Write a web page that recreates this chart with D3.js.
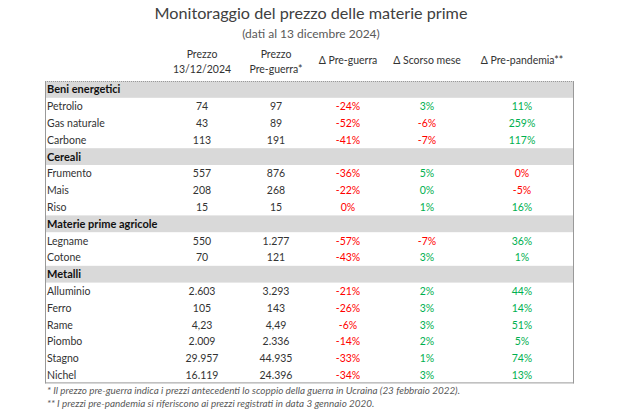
<!DOCTYPE html>
<html><head><meta charset="utf-8">
<script src="https://cdn.jsdelivr.net/npm/d3@7"></script>
<style>
html,body{margin:0;padding:0;background:#fff;}
svg{display:block;font-family:Lato,"Open Sans",sans-serif;}
</style></head>
<body><div id="chart"></div>
<script>
// ---- data ----
const title = "Monitoraggio del prezzo delle materie prime";
const subtitle = "(dati al 13 dicembre 2024)";
const columnHeaders = [["Prezzo","13/12/2024"],["Prezzo","Pre-guerra*"],["Δ Pre-guerra"],["Δ Scorso mese"],["Δ Pre-pandemia**"]];
const groups = ["Beni energetici","Cereali","Materie prime agricole","Metalli"];
const groupOf = ["Beni energetici","Beni energetici","Beni energetici","Cereali","Cereali","Cereali","Materie prime agricole","Materie prime agricole","Metalli","Metalli","Metalli","Metalli","Metalli","Metalli"];
const commodities = ["Petrolio","Gas naturale","Carbone","Frumento","Mais","Riso","Legname","Cotone","Alluminio","Ferro","Rame","Piombo","Stagno","Nichel"];
const prezzoAttuale = [74,43,113,557,208,15,550,70,2603,105,4.23,2009,29957,16119];
const prezzoPreGuerra = [97,89,191,876,268,15,1277,121,3293,143,4.49,2336,44935,24396];
const deltaPreGuerra = [-24,-52,-41,-36,-22,-0.3,-57,-43,-21,-26,-6,-14,-33,-34];
const deltaScorsoMese = [3,-6,-7,5,0.3,1,-7,3,2,3,3,2,1,3];
const deltaPrePandemia = [11,259,117,-0.3,-5,16,36,1,44,14,51,5,74,13];
const footnotes = ["* Il prezzo pre-guerra indica i prezzi antecedenti lo scoppio della guerra in Ucraina (23 febbraio 2022).",
                   "** I prezzi pre-pandemia si riferiscono ai prezzi registrati in data 3 gennaio 2020."];

// ---- layout ----
const W = 620, H = 412;
const svg = d3.select("#chart").append("svg").attr("width", W).attr("height", H);

const rows = [];
groups.forEach(g => {
  rows.push({type:"group", label:g});
  commodities.forEach((c,i) => {
    if (groupOf[i] === g) rows.push({type:"item", label:c, i});
  });
});

const y = d3.scaleBand().domain(d3.range(rows.length)).range([81, 81 + 16.8*rows.length]);
const colKeys = ["p1","p2","d1","d2","d3"];
const x = d3.scaleOrdinal().domain(colKeys).range([202, 276, 348, 427, 522]);
const tableLeft = 45, tableRight = 574;

const it = d3.formatLocale({decimal:",", thousands:".", grouping:[3], currency:["€",""]});
const fmtInt = it.format(",.0f"), fmtDec = it.format(",.2f");
const fmtPrice = v => v < 10 ? fmtDec(v) : fmtInt(v);
const fmtPct = v => String(Math.round(v) === 0 ? 0 : Math.round(v)) + "%";
const pctColor = v => v < 0 ? "#ff0000" : "#00b050";

svg.append("text").attr("x", 311).attr("y", 19).attr("text-anchor","middle")
  .attr("font-size", 16.2).attr("fill", "#404040").text(title);
svg.append("text").attr("x", 311).attr("y", 38).attr("text-anchor","middle")
  .attr("font-size", 12).attr("fill", "#595959").text(subtitle);

columnHeaders.forEach((h,k) => {
  const t = svg.append("text").attr("x", x(colKeys[k])).attr("text-anchor","middle")
    .attr("font-size", 10.5).attr("fill", "#333");
  if (h.length === 2) {
    t.append("tspan").attr("x", x(colKeys[k])).attr("y", 58).text(h[0]);
    t.append("tspan").attr("x", x(colKeys[k])).attr("y", 73).text(h[1]);
  } else {
    t.attr("y", 64).text(h[0]);
  }
});

svg.selectAll("rect.band").data(rows.map((r,i)=>({...r, idx:i})).filter(r=>r.type==="group"))
  .join("rect").attr("class","band")
  .attr("x", tableLeft).attr("width", tableRight - tableLeft)
  .attr("y", d => y(d.idx)).attr("height", y.bandwidth()).attr("fill", "#d9d9d9");

const rowG = svg.selectAll("g.row").data(rows.map((r,i)=>({...r, idx:i}))).join("g")
  .attr("class","row").attr("transform", d => `translate(0,${y(d.idx) + y.bandwidth()/2 + 4})`);
rowG.append("text").attr("x", 47).attr("font-size", d => d.type==="group" ? 11 : 10.5)
  .attr("font-weight", d => d.type==="group" ? "bold" : "normal")
  .attr("fill", d => d.type==="group" ? "#111" : "#333")
  .text(d => d.label);

const items = rowG.filter(d => d.type === "item");
items.append("text").attr("x", x("p1")).attr("text-anchor","middle").attr("font-size",10.5).attr("fill","#333")
  .text(d => fmtPrice(prezzoAttuale[d.i]));
items.append("text").attr("x", x("p2")).attr("text-anchor","middle").attr("font-size",10.5).attr("fill","#333")
  .text(d => fmtPrice(prezzoPreGuerra[d.i]));
[["d1",deltaPreGuerra],["d2",deltaScorsoMese],["d3",deltaPrePandemia]].forEach(([k,arr]) => {
  items.append("text").attr("x", x(k)).attr("text-anchor","middle").attr("font-size",10.5)
    .attr("fill", d => pctColor(arr[d.i])).text(d => fmtPct(arr[d.i]));
});

const yTop = y(0), yBottom = y(rows.length-1) + y.bandwidth();
svg.append("line").attr("x1",tableLeft).attr("x2",tableRight).attr("y1",yTop+0.5).attr("y2",yTop+0.5)
  .attr("stroke","#999").attr("stroke-dasharray","1,1");
svg.append("line").attr("x1",tableLeft+0.5).attr("x2",tableLeft+0.5).attr("y1",yTop).attr("y2",yBottom).attr("stroke","#999");
svg.append("line").attr("x1",tableRight-0.5).attr("x2",tableRight-0.5).attr("y1",yTop).attr("y2",yBottom).attr("stroke","#999");
svg.append("line").attr("x1",tableLeft).attr("x2",tableRight).attr("y1",yBottom-0.5).attr("y2",yBottom-0.5).attr("stroke","#999");

footnotes.forEach((f,k) => {
  svg.append("text").attr("x", 47).attr("y", 393.5 + k*13.5).attr("font-size", 9.9)
    .attr("font-style","italic").attr("fill","#595959").text(f);
});
</script></body></html>
